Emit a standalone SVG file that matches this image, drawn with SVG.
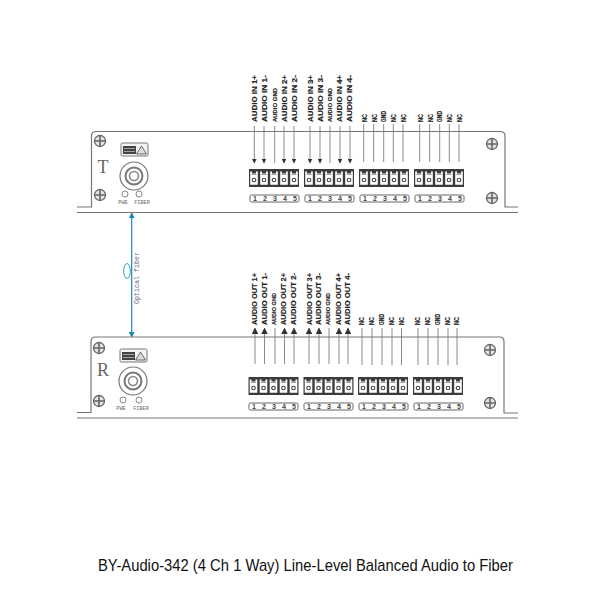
<svg xmlns="http://www.w3.org/2000/svg" width="600" height="600" viewBox="0 0 600 600">
<style>
.p{fill:none;stroke:#777;stroke-width:1.2}
.w{stroke:#8a8a8a;stroke-width:1;fill:none}
.v{font:bold 7.4px "Liberation Sans",sans-serif;fill:#222;stroke:#222;stroke-width:.15}
.g{font-size:6px}
.n{font:bold 7px "Liberation Sans",sans-serif;fill:#444;text-anchor:middle}
.s{font:5.2px "Liberation Mono",monospace;fill:#666;text-anchor:middle}
.l{fill:none;stroke:#888}
</style>
<defs>
<marker id="a" markerWidth="5" markerHeight="5" refX="4.500" refY="2.500" orient="auto"><path d="M0 0L5 2.500L0 5z" fill="#333"/></marker>
<marker id="c" markerWidth="6.500" markerHeight="6.500" refX="6" refY="3.250" orient="auto"><path d="M0 0L6.500 3.250L0 6.500z" fill="#333"/></marker>
<marker id="b" markerWidth="5" markerHeight="5" refX="4" refY="2.500" orient="auto-start-reverse"><path d="M0 0L5 2.500L0 5z" fill="#1a86b8"/></marker>
<g id="screw"><circle r="5.500" fill="#e4e4e4" stroke="#666" stroke-width="1.300"/><path d="M-5 0H5M0-5V5" stroke="#666" stroke-width="1.600"/></g>
<g id="cell"><path d="M1.200 2.500H3V4.500H7V2.500H8.800V15.800H1.200z" fill="#fff"/><path d="M2.500 5.500H7.500" stroke="#777" stroke-width=".7"/><circle cx="5" cy="11" r="1.800" fill="#fff" stroke="#444" stroke-width="1.100"/></g>
<g id="term"><rect width="50" height="18" fill="#3c3c3c"/><use href="#cell"/><use href="#cell" x="10"/><use href="#cell" x="20"/><use href="#cell" x="30"/><use href="#cell" x="40"/></g>
<g id="nums"><rect width="49" height="7" rx="1.500" fill="#fff" stroke="#666"/><text class="n" x="5" y="6.200">1</text><text class="n" x="15" y="6.200">2</text><text class="n" x="25" y="6.200">3</text><text class="n" x="35" y="6.200">4</text><text class="n" x="45" y="6.200">5</text></g>
<g id="tag"><rect width="27" height="13" rx="1.500" fill="#f4f4f4" stroke="#777"/><rect x="2" y="3" width="13" height="8" fill="#444"/><path d="M3 5.500H14M3 8.500H14" stroke="#bbb" stroke-width=".8"/><path d="M20.500 3L25.500 11H15.500z" fill="#ddd" stroke="#666"/></g>
<g id="port"><circle r="14" fill="none" stroke="#777" stroke-width="1.200"/><circle r="8.500" fill="none" stroke="#777" stroke-width="2"/><circle r="4.500" fill="none" stroke="#888" stroke-width="1.600"/></g>
</defs>
<g id="connectors">
<path style="fill:none;stroke:#1a86b8;stroke-width:1.200" d="M131.700 213.500V336.500" marker-start="url(#b)" marker-end="url(#b)"/>
<ellipse cx="127" cy="271" rx="3.300" ry="7.500" fill="none" stroke="#3aa0c8"/>
<path class="w" d="M254.300 126V163" marker-end="url(#a)"/><path class="w" d="M264 126V163" marker-end="url(#a)"/><path class="w" d="M274.700 126V163"/><path class="w" d="M284 126V163" marker-end="url(#a)"/><path class="w" d="M294 126V163" marker-end="url(#a)"/>
<path class="w" d="M310 126V163" marker-end="url(#a)"/><path class="w" d="M320 126V163" marker-end="url(#a)"/><path class="w" d="M330 126V163"/><path class="w" d="M340 126V163" marker-end="url(#a)"/><path class="w" d="M350 126V163" marker-end="url(#a)"/>
<path class="w" d="M363.700 124V162M373.700 124V162M383.700 124V162M393.300 124V162M403 124V162M419.700 124V162M429.700 124V162M439.700 124V162M449.300 124V162M459 124V162"/>
<path class="w" d="M255 364V328" marker-end="url(#c)"/><path class="w" d="M264.500 364V328" marker-end="url(#c)"/><path class="w" d="M275 364V328"/><path class="w" d="M284.500 364V328" marker-end="url(#c)"/><path class="w" d="M294 364V328" marker-end="url(#c)"/>
<path class="w" d="M309 364V328" marker-end="url(#c)"/><path class="w" d="M319 364V328" marker-end="url(#c)"/><path class="w" d="M329 364V328"/><path class="w" d="M339 364V328" marker-end="url(#c)"/><path class="w" d="M348 364V328" marker-end="url(#c)"/>
<path class="w" d="M362 328V365M372 328V365M382 328V365M392 328V365M401.500 328V365M418 328V365M428 328V365M438 328V365M448 328V365M457 328V365"/>
</g>
<g id="transmitter">
<path class="p" d="M77 207H91.500V136Q91.500 131.500 96 131.500H500Q505 131.500 505 136V207H518M77 212.500H518"/>
<use href="#screw" x="100" y="141"/><use href="#screw" x="100" y="195"/><use href="#screw" x="492" y="144"/><use href="#screw" x="492" y="198"/>
<text x="103" y="173" text-anchor="middle" style="font:18px 'Liberation Serif',serif;fill:#666">T</text>
<use href="#tag" x="121" y="143"/><use href="#port" x="134" y="176"/>
<circle class="l" cx="125" cy="194" r="3"/><circle class="l" cx="139" cy="194" r="3"/>
<text class="s" x="123" y="204">PWE</text><text class="s" x="142" y="204">FIBER</text>
<use href="#term" x="249" y="169"/><use href="#term" x="304" y="169"/><use href="#term" x="359" y="169"/><use href="#term" x="414" y="169"/>
<use href="#nums" x="250" y="195"/><use href="#nums" x="305" y="195"/><use href="#nums" x="360" y="195"/><use href="#nums" x="415" y="195"/>
<g class="v">
<text transform="translate(257,122) rotate(-90)" textLength="47" lengthAdjust="spacingAndGlyphs">AUDIO IN 1+</text>
<text transform="translate(267,122) rotate(-90)" textLength="47" lengthAdjust="spacingAndGlyphs">AUDIO IN 1-</text>
<text class="g" transform="translate(276.500,122) rotate(-90)" textLength="34" lengthAdjust="spacingAndGlyphs">AUDIO GND</text>
<text transform="translate(286.500,122) rotate(-90)" textLength="47" lengthAdjust="spacingAndGlyphs">AUDIO IN 2+</text>
<text transform="translate(296.500,122) rotate(-90)" textLength="47" lengthAdjust="spacingAndGlyphs">AUDIO IN 2-</text>
<text transform="translate(313,122) rotate(-90)" textLength="47" lengthAdjust="spacingAndGlyphs">AUDIO IN 3+</text>
<text transform="translate(322.500,122) rotate(-90)" textLength="47" lengthAdjust="spacingAndGlyphs">AUDIO IN 3-</text>
<text class="g" transform="translate(331.500,122) rotate(-90)" textLength="34" lengthAdjust="spacingAndGlyphs">AUDIO GND</text>
<text transform="translate(341.500,122) rotate(-90)" textLength="47" lengthAdjust="spacingAndGlyphs">AUDIO IN 4+</text>
<text transform="translate(351.500,122) rotate(-90)" textLength="47" lengthAdjust="spacingAndGlyphs">AUDIO IN 4-</text>
<text transform="translate(366.500,122) rotate(-90)" textLength="8" lengthAdjust="spacingAndGlyphs">NC</text><text transform="translate(376.500,122) rotate(-90)" textLength="8" lengthAdjust="spacingAndGlyphs">NC</text><text transform="translate(385.500,122) rotate(-90)" textLength="11" lengthAdjust="spacingAndGlyphs">GND</text><text transform="translate(395.500,122) rotate(-90)" textLength="8" lengthAdjust="spacingAndGlyphs">NC</text><text transform="translate(405.500,122) rotate(-90)" textLength="8" lengthAdjust="spacingAndGlyphs">NC</text>
<text transform="translate(422.500,122) rotate(-90)" textLength="8" lengthAdjust="spacingAndGlyphs">NC</text><text transform="translate(432.500,122) rotate(-90)" textLength="8" lengthAdjust="spacingAndGlyphs">NC</text><text transform="translate(441.500,122) rotate(-90)" textLength="11" lengthAdjust="spacingAndGlyphs">GND</text><text transform="translate(451.500,122) rotate(-90)" textLength="8" lengthAdjust="spacingAndGlyphs">NC</text><text transform="translate(461.500,122) rotate(-90)" textLength="8" lengthAdjust="spacingAndGlyphs">NC</text>
</g>
</g>
<g id="fiber-label"><text transform="translate(139,304) rotate(-90)" textLength="52" style="font:6.500px 'Liberation Mono',monospace;fill:#666">Optical fiber</text></g>
<g id="receiver">
<path class="p" d="M77 412.500H91V341.500Q91 337 95.500 337H499.500Q504 337 504 341.500V413H518M77 418H518"/>
<use href="#screw" x="99" y="348"/><use href="#screw" x="99" y="401"/><use href="#screw" x="490" y="350"/><use href="#screw" x="490" y="403"/>
<text x="103" y="376" text-anchor="middle" style="font:18px 'Liberation Serif',serif;fill:#666">R</text>
<use href="#tag" x="120" y="349"/><use href="#port" x="133" y="381"/>
<circle class="l" cx="123" cy="400" r="3"/><circle class="l" cx="139" cy="400" r="3"/>
<text class="s" x="121" y="410">PWE</text><text class="s" x="141" y="410">FIBER</text>
<use href="#term" x="248.500" y="377"/><use href="#term" x="303.500" y="377"/><use href="#term" x="358" y="377"/><use href="#term" x="413" y="377"/>
<use href="#nums" x="249" y="403"/><use href="#nums" x="304" y="403"/><use href="#nums" x="359" y="403"/><use href="#nums" x="414" y="403"/>
<g class="v">
<text transform="translate(257,325) rotate(-90)" textLength="52" lengthAdjust="spacingAndGlyphs">AUDIO OUT 1+</text>
<text transform="translate(267,325) rotate(-90)" textLength="52" lengthAdjust="spacingAndGlyphs">AUDIO OUT 1-</text>
<text class="g" transform="translate(275.500,325) rotate(-90)" textLength="32" lengthAdjust="spacingAndGlyphs">AUDIO GND</text>
<text transform="translate(285.500,325) rotate(-90)" textLength="52" lengthAdjust="spacingAndGlyphs">AUDIO OUT 2+</text>
<text transform="translate(295.500,325) rotate(-90)" textLength="52" lengthAdjust="spacingAndGlyphs">AUDIO OUT 2-</text>
<text transform="translate(311.500,325) rotate(-90)" textLength="52" lengthAdjust="spacingAndGlyphs">AUDIO OUT 3+</text>
<text transform="translate(320.500,325) rotate(-90)" textLength="52" lengthAdjust="spacingAndGlyphs">AUDIO OUT 3-</text>
<text class="g" transform="translate(330,325) rotate(-90)" textLength="32" lengthAdjust="spacingAndGlyphs">AUDIO GND</text>
<text transform="translate(340.500,325) rotate(-90)" textLength="52" lengthAdjust="spacingAndGlyphs">AUDIO OUT 4+</text>
<text transform="translate(349.500,325) rotate(-90)" textLength="52" lengthAdjust="spacingAndGlyphs">AUDIO OUT 4-</text>
<text transform="translate(364,325) rotate(-90)" textLength="8" lengthAdjust="spacingAndGlyphs">NC</text><text transform="translate(374,325) rotate(-90)" textLength="8" lengthAdjust="spacingAndGlyphs">NC</text><text transform="translate(384,325) rotate(-90)" textLength="11" lengthAdjust="spacingAndGlyphs">GND</text><text transform="translate(394,325) rotate(-90)" textLength="8" lengthAdjust="spacingAndGlyphs">NC</text><text transform="translate(403.500,325) rotate(-90)" textLength="8" lengthAdjust="spacingAndGlyphs">NC</text>
<text transform="translate(420,325) rotate(-90)" textLength="8" lengthAdjust="spacingAndGlyphs">NC</text><text transform="translate(430,325) rotate(-90)" textLength="8" lengthAdjust="spacingAndGlyphs">NC</text><text transform="translate(440,325) rotate(-90)" textLength="11" lengthAdjust="spacingAndGlyphs">GND</text><text transform="translate(450,325) rotate(-90)" textLength="8" lengthAdjust="spacingAndGlyphs">NC</text><text transform="translate(459,325) rotate(-90)" textLength="8" lengthAdjust="spacingAndGlyphs">NC</text>
</g>
</g>
<g id="caption"><text x="98" y="571" textLength="415" lengthAdjust="spacingAndGlyphs" style="font:17px 'Liberation Sans',sans-serif;fill:#111">BY-Audio-342 (4 Ch 1 Way) Line-Level Balanced Audio to Fiber</text></g>
</svg>
